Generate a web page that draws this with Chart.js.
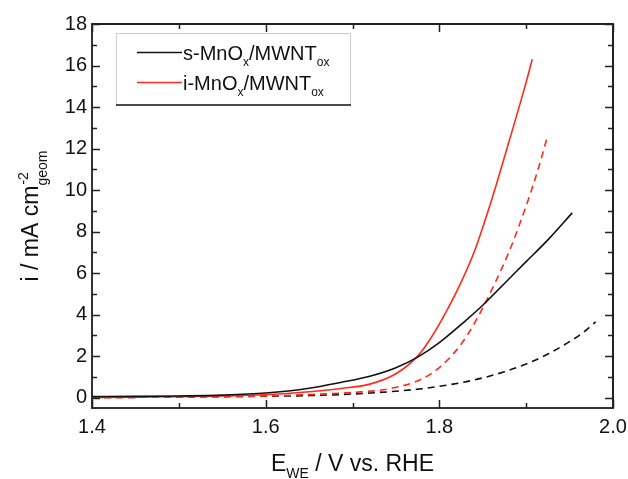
<!DOCTYPE html>
<html>
<head>
<meta charset="UTF-8">
<title>MnOx / MWNT polarisation curves</title>
<script src="https://cdn.jsdelivr.net/npm/chart.js"></script>
<style>
  html, body { margin: 0; padding: 0; background: #fff; }
  #wrap { width: 628px; height: 479px; }
</style>
</head>
<body>
<div id="wrap"><canvas id="chart" width="628" height="479"></canvas></div>
<script>
// series values
const sSolidX = [1.40, 1.45, 1.50, 1.55, 1.60, 1.65, 1.685, 1.72, 1.75, 1.775, 1.80, 1.83, 1.85, 1.875, 1.90, 1.925, 1.953];
const sSolidY = [0.05, 0.06, 0.08, 0.12, 0.22, 0.45, 0.72, 1.03, 1.44, 1.95, 2.65, 3.70, 4.45, 5.50, 6.55, 7.60, 8.90];

const iSolidX = [1.40, 1.45, 1.50, 1.55, 1.60, 1.65, 1.685, 1.72, 1.75, 1.775, 1.79, 1.81, 1.825, 1.84, 1.86, 1.88, 1.90, 1.907];
const iSolidY = [0.00, 0.02, 0.05, 0.08, 0.14, 0.28, 0.43, 0.65, 1.15, 2.00, 2.85, 4.30, 5.55, 7.00, 9.50, 12.3, 15.2, 16.3];

const iDashX = [1.40, 1.50, 1.60, 1.65, 1.70, 1.743, 1.78, 1.80, 1.82, 1.832, 1.846, 1.865, 1.88, 1.892, 1.903, 1.913, 1.924];
const iDashY = [0.00, 0.03, 0.08, 0.15, 0.25, 0.43, 0.90, 1.45, 2.30, 3.00, 4.00, 5.60, 7.00, 8.30, 9.60, 10.9, 12.5];

const sDashX = [1.40, 1.50, 1.60, 1.65, 1.72, 1.78, 1.825, 1.85, 1.875, 1.90, 1.925, 1.95, 1.965, 1.98];
const sDashY = [0.00, 0.03, 0.07, 0.10, 0.22, 0.43, 0.72, 0.95, 1.25, 1.62, 2.10, 2.70, 3.12, 3.65];

// legend names (pieces, sub = subscript)
const sName = [{t: 's-MnO'}, {t: 'x', sub: true}, {t: '/MWNT'}, {t: 'ox', sub: true}];
const iName = [{t: 'i-MnO'}, {t: 'x', sub: true}, {t: '/MWNT'}, {t: 'ox', sub: true}];

// tick labels
const xTicks = [1.4, 1.6, 1.8, 2.0];
const xMinor = [1.5, 1.7, 1.9];
const yTicks = [0, 2, 4, 6, 8, 10, 12, 14, 16, 18];
const yMinor = [1, 3, 5, 7, 9, 11, 13, 15, 17];

const RED = '#ff2a1a';
const BLACK = '#111';
const FONT = '"Liberation Sans", Arial, sans-serif';

function pts(xs, ys) {
  return xs.map((x, i) => ({x: x, y: ys[i]}));
}

function drawRich(ctx, parts, x, y, size) {
  parts.forEach(p => {
    if (p.sub) {
      ctx.font = Math.round(size * 0.62) + 'px ' + FONT;
      ctx.fillText(p.t, x, y + size * 0.3);
    } else if (p.sup) {
      ctx.font = Math.round(size * 0.62) + 'px ' + FONT;
      ctx.fillText(p.t, x, y - size * 0.45);
    } else {
      ctx.font = size + 'px ' + FONT;
      ctx.fillText(p.t, x, y);
    }
    x += ctx.measureText(p.t).width;
  });
}

function richWidth(ctx, parts, size) {
  let w = 0;
  parts.forEach(p => {
    ctx.font = (p.sub || p.sup ? Math.round(size * 0.62) : size) + 'px ' + FONT;
    w += ctx.measureText(p.t).width;
  });
  return w;
}

const frame = {
  id: 'frame',
  afterDraw(chart) {
    const ctx = chart.ctx;
    const a = chart.chartArea;
    const xs = chart.scales.x, ys = chart.scales.y;
    ctx.save();
    ctx.strokeStyle = '#222';
    ctx.lineWidth = 2;
    ctx.beginPath();
    ctx.moveTo(a.left, a.top); ctx.lineTo(a.right, a.top); ctx.lineTo(a.right, a.bottom);
    ctx.stroke();

    // inward ticks on all four sides
    ctx.lineWidth = 1.5;
    const tick = (vals, len) => {
      vals.forEach(v => {
        const px = Math.round(xs.getPixelForValue(v)) + 0.5;
        ctx.beginPath();
        ctx.moveTo(px, a.bottom); ctx.lineTo(px, a.bottom - len);
        ctx.moveTo(px, a.top); ctx.lineTo(px, a.top + len);
        ctx.stroke();
      });
    };
    const ytick = (vals, len) => {
      vals.forEach(v => {
        const py = Math.round(ys.getPixelForValue(v)) + 0.5;
        ctx.beginPath();
        ctx.moveTo(a.left, py); ctx.lineTo(a.left + len, py);
        ctx.moveTo(a.right, py); ctx.lineTo(a.right - len, py);
        ctx.stroke();
      });
    };
    tick(xTicks, 8); tick(xMinor, 5);
    ytick(yTicks, 8); ytick(yMinor, 5);

    // axis titles
    ctx.fillStyle = '#111';
    ctx.textBaseline = 'alphabetic';
    const xt = [{t: 'E'}, {t: 'WE', sub: true}, {t: ' / V vs. RHE'}];
    const xw = richWidth(ctx, xt, 23);
    drawRich(ctx, xt, (a.left + a.right) / 2 - xw / 2, 471, 23);

    const yt = [{t: 'i / mA cm'}, {t: '-2', sup: true}, {t: 'geom', sub: true}];
    ctx.translate(38, (a.top + a.bottom) / 2);
    ctx.rotate(-Math.PI / 2);
    // superscript and subscript stack, so step back for the subscript
    ctx.font = '23px ' + FONT;
    const w0 = ctx.measureText('i / mA cm').width;
    ctx.font = '14px ' + FONT;
    const w2 = ctx.measureText('geom').width;
    const yw = w0 + w2;
    drawRich(ctx, [yt[0]], -yw / 2, 0, 23);
    drawRich(ctx, [yt[1]], -yw / 2 + w0 + 1, 0, 23);
    drawRich(ctx, [yt[2]], -yw / 2 + w0, 2, 23);
    ctx.restore();

    // legend
    ctx.save();
    const L = 116, T = 33, R = 350, B = 105;
    ctx.strokeStyle = '#ccc';
    ctx.lineWidth = 1;
    ctx.beginPath();
    ctx.moveTo(L + 0.5, B); ctx.lineTo(L + 0.5, T + 0.5); ctx.lineTo(R + 0.5, T + 0.5); ctx.lineTo(R + 0.5, B);
    ctx.stroke();
    ctx.strokeStyle = '#111';
    ctx.lineWidth = 1.5;
    ctx.beginPath();
    ctx.moveTo(L, B); ctx.lineTo(R + 1, B);
    ctx.stroke();
    const rows = [[BLACK, sName, 52], [RED, iName, 82]];
    ctx.fillStyle = '#111';
    rows.forEach(r => {
      ctx.strokeStyle = r[0];
      ctx.lineWidth = 1.5;
      ctx.beginPath();
      ctx.moveTo(137, r[2] + 0.5); ctx.lineTo(182, r[2] + 0.5);
      ctx.stroke();
      drawRich(ctx, r[1], 183, r[2] + 8, 20);
    });
    ctx.restore();
  }
};

const common = {showLine: true, pointRadius: 0, borderWidth: 1.6, cubicInterpolationMode: 'monotone', fill: false};

new Chart(document.getElementById('chart').getContext('2d'), {
  type: 'scatter',
  data: {
    datasets: [
      Object.assign({label: 's-MnOx/MWNTox', data: pts(sSolidX, sSolidY), borderColor: BLACK}, common),
      Object.assign({label: 'i-MnOx/MWNTox', data: pts(iSolidX, iSolidY), borderColor: RED}, common),
      Object.assign({label: 'i dashed', data: pts(iDashX, iDashY), borderColor: RED, borderDash: [7, 5]}, common),
      Object.assign({label: 's dashed', data: pts(sDashX, sDashY), borderColor: BLACK, borderDash: [7, 5]}, common)
    ]
  },
  options: {
    responsive: false,
    animation: false,
    layout: {padding: {left: 0, top: 24, right: 15, bottom: 0}},
    plugins: {legend: {display: false}, tooltip: {enabled: false}},
    scales: {
      x: {
        type: 'linear', min: 1.4, max: 2.0,
        afterBuildTicks: s => { s.ticks = xTicks.map(v => ({value: v})); },
        afterFit: s => { s.height = 71; s.paddingLeft = 0; s.paddingRight = 0; },
        grid: {display: false, drawTicks: false},
        border: {display: true, color: '#333', width: 2},
        ticks: {padding: 7, color: '#111', font: {family: FONT, size: 20}, callback: v => v.toFixed(1), maxRotation: 0}
      },
      y: {
        type: 'linear', min: -0.5, max: 18,
        afterBuildTicks: s => { s.ticks = yTicks.map(v => ({value: v})); },
        afterFit: s => { s.width = 92; s.paddingTop = 0; s.paddingBottom = 0; },
        grid: {display: false, drawTicks: false},
        border: {display: true, color: '#333', width: 2},
        ticks: {padding: 5, color: '#111', font: {family: FONT, size: 20}}
      }
    }
  },
  plugins: [frame]
});
</script>
</body>
</html>
